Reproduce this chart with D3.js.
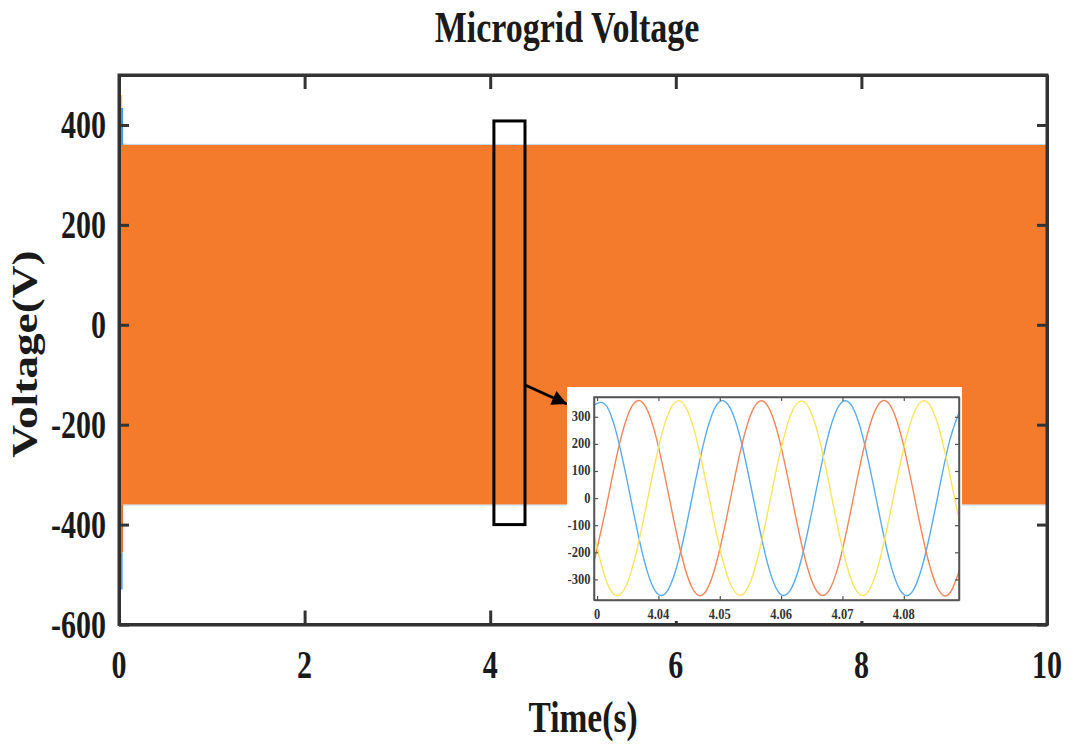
<!DOCTYPE html>
<html>
<head>
<meta charset="utf-8">
<script src="https://cdn.jsdelivr.net/npm/d3@7/dist/d3.min.js"></script>
<style>
  html, body { margin: 0; padding: 0; background: #fff; }
  svg { display: block; }
  text { font-family: "Liberation Serif", "Times New Roman", serif; font-weight: bold; fill: #1a1a1a; }
</style>
</head>
<body>
<script>
// ---------------- DATA ----------------
const titleText = "Microgrid Voltage";
const xLabelText = "Time(s)";
const yLabelText = "Voltage(V)";

const xTicks = [0, 2, 4, 6, 8, 10];
const yTicks = [-600, -400, -200, 0, 200, 400];

// envelope of the dense 3-phase waveform (main plot)
const envT     = [0, 0.02, 0.05, 0.1, 10];
const envUpper = [368, 366, 361, 360, 360];
const envLower = [-362, -361, -360, -360, -360];

// start-up transient spikes: [time, from, to]
const spikeYellow = [0.022, 360, 460];
const spikeBlue   = [0.03, 360, 434];
const spikeOrangeLow = [0.03, -360, -456];
const spikeBlueLow   = [0.025, -456, -530];

// zoom window marked on main plot
const zoomX = [4.04, 4.375];
const zoomY = [-400, 408];

// inset (zoomed waveform)
const insetT = [4.0295, 4.0315, 4.0335, 4.0355, 4.0375, 4.0395, 4.0415, 4.0435, 4.0455, 4.0475,
                4.0495, 4.0515, 4.0535, 4.0555, 4.0575, 4.0595, 4.0615, 4.0635, 4.0655, 4.0675,
                4.0695, 4.0715, 4.0735, 4.0755, 4.0775, 4.0795, 4.0815, 4.0835, 4.0855, 4.0875, 4.0895];
const phaseBlue   = [343, 341, 209, -3, -214, -343, -341, -209, 3, 214,
                     344, 340, 208, -4, -215, -344, -340, -208, 4, 215,
                     343, 341, 209, -3, -214, -343, -341, -209, 3, 214, 343];
const phaseOrange = [-236, -31, 185, 331, 351, 236, 31, -185, -331, -351,
                     -235, -30, 186, 331, 350, 235, 30, -186, -331, -350,
                     -236, -31, 185, 331, 351, 236, 31, -185, -331, -351, -236];
const phaseYellow = [-135, -305, -359, -276, -87, 135, 305, 359, 276, 87,
                     -134, -304, -358, -277, -88, 134, 304, 358, 277, 88,
                     -135, -305, -359, -276, -87, 135, 305, 359, 276, 87, -135];
const insetXTicks = [4.03, 4.04, 4.05, 4.06, 4.07, 4.08];
const insetXTickLabels = ["0", "4.04", "4.05", "4.06", "4.07", "4.08"];
const insetYTicks = [-300, -200, -100, 0, 100, 200, 300];

// ---------------- STYLE ----------------
const C_BAND = "#f47a2c";
const C_EDGE = "#aac4dc";
const C_BLUE = "#5aaced";
const C_ORANGE = "#f0875a";
const C_YELLOW = "#fde35e";
const C_AXIS = "#333333";

const W = 1073, H = 747;
const svg = d3.select("body").append("svg").attr("width", W).attr("height", H);
svg.append("rect").attr("width", W).attr("height", H).attr("fill", "#fff");

const SY = 1.35; // vertical stretch of text as in the reference

function sText(g, x, y, str, size, anchor, sy) {
  return g.append("text")
    .attr("transform", `translate(${x},${y}) scale(1,${sy})`)
    .attr("text-anchor", anchor)
    .style("font-size", size + "px")
    .text(str);
}

// ---------------- MAIN PLOT ----------------
const x = d3.scaleLinear().domain([0, 10]).range([119, 1047]);
const y = d3.scaleLinear().domain([-600, 500]).range([624.5, 75]);

const main = svg.append("g");
main.append("clipPath").attr("id", "clipMain")
  .append("rect").attr("x", x(0)).attr("y", y(500)).attr("width", x(10) - x(0)).attr("height", y(-600) - y(500));

const plotG = main.append("g").attr("clip-path", "url(#clipMain)");
const env = envT.map((t, i) => ({ t, hi: envUpper[i], lo: envLower[i] }));

plotG.append("path").datum(env)
  .attr("fill", C_BAND)
  .attr("d", d3.area().x(d => x(d.t)).y0(d => y(d.lo)).y1(d => y(d.hi)));
plotG.append("path").datum(env).attr("fill", "none").attr("stroke", C_EDGE).attr("stroke-width", 1)
  .attr("stroke-opacity", 0.7)
  .attr("d", d3.line().x(d => x(d.t)).y(d => y(d.hi) - 0.5));
plotG.append("path").datum(env).attr("fill", "none").attr("stroke", C_EDGE).attr("stroke-width", 1)
  .attr("stroke-opacity", 0.7)
  .attr("d", d3.line().x(d => x(d.t)).y(d => y(d.lo) + 0.5));

function spike(s, color) {
  plotG.append("line")
    .attr("x1", x(s[0])).attr("x2", x(s[0]))
    .attr("y1", y(s[1])).attr("y2", y(s[2]))
    .attr("stroke", color).attr("stroke-width", 2.5);
}
spike(spikeYellow, "#f5d742");
spike(spikeBlue, "#3d9be0");
spike(spikeOrangeLow, "#e8742c");
spike(spikeBlueLow, "#3d9be0");

// axes box with inward ticks on all sides
const axG = main.append("g").attr("class", "axes");
function styleAxis(g) {
  g.selectAll("path").attr("stroke", C_AXIS).attr("stroke-width", 3);
  g.selectAll("line").attr("stroke", C_AXIS).attr("stroke-width", 3);
  g.selectAll("text").remove();
}
axG.append("g").attr("transform", `translate(${x(0)},0)`)
  .call(d3.axisLeft(y).tickValues(yTicks).tickSize(-10).tickSizeOuter(0)).call(styleAxis);
axG.append("g").attr("transform", `translate(${x(10)},0)`)
  .call(d3.axisRight(y).tickValues(yTicks).tickSize(-10).tickSizeOuter(0)).call(styleAxis);
axG.append("g").attr("transform", `translate(0,${y(-600)})`)
  .call(d3.axisBottom(x).tickValues(xTicks).tickSize(-14).tickSizeOuter(0)).call(styleAxis);
axG.append("g").attr("transform", `translate(0,${y(500)})`)
  .call(d3.axisTop(x).tickValues(xTicks).tickSize(-14).tickSizeOuter(0)).call(styleAxis);
axG.append("rect")
  .attr("x", x(0)).attr("y", y(500)).attr("width", x(10) - x(0)).attr("height", y(-600) - y(500))
  .attr("fill", "none").attr("stroke", C_AXIS).attr("stroke-width", 3);

// tick labels
yTicks.forEach(v => sText(main, 106, y(v) + 13.5, String(v), 30, "end", SY));
xTicks.forEach(v => sText(main, x(v), 678, String(v), 30, "middle", SY));

// titles
sText(svg, 567, 42, titleText, 34, "middle", 1.32);
sText(svg, 583, 732, xLabelText, 33.5, "middle", 1.32);
svg.append("text")
  .attr("transform", `translate(37,354) rotate(-90) scale(1.26,1)`)
  .attr("text-anchor", "middle")
  .style("font-size", "36px")
  .text(yLabelText);

// zoom rectangle
main.append("rect")
  .attr("x", x(zoomX[0])).attr("y", y(zoomY[1]))
  .attr("width", x(zoomX[1]) - x(zoomX[0])).attr("height", y(zoomY[0]) - y(zoomY[1]))
  .attr("fill", "none").attr("stroke", "#000").attr("stroke-width", 3);

// ---------------- INSET ----------------
const inBg = { x0: 567, y0: 387, x1: 962, y1: 621 };
const ix = d3.scaleLinear().domain([4.0295, 4.089]).range([594, 959]);
const iy = d3.scaleLinear().domain([-376, 373]).range([600, 397]);

// arrow from zoom box to inset
const defs = svg.append("defs");
defs.append("marker").attr("id", "arrowHead")
  .attr("viewBox", "0 0 10 10").attr("refX", 10).attr("refY", 5)
  .attr("markerWidth", 6.5).attr("markerHeight", 5).attr("markerUnits", "strokeWidth")
  .attr("orient", "auto")
  .append("path").attr("d", "M0,0 L10,5 L0,10 Z").attr("fill", "#000");
svg.append("line")
  .attr("x1", x(zoomX[1])).attr("y1", 385)
  .attr("x2", inBg.x0).attr("y2", 404)
  .attr("stroke", "#000").attr("stroke-width", 3)
  .attr("marker-end", "url(#arrowHead)");

const inset = svg.append("g");
inset.append("rect").attr("x", inBg.x0).attr("y", inBg.y0)
  .attr("width", inBg.x1 - inBg.x0).attr("height", inBg.y1 - inBg.y0).attr("fill", "#fff");

inset.append("clipPath").attr("id", "clipInset")
  .append("rect").attr("x", 594).attr("y", 397).attr("width", 365).attr("height", 203);
const inPlot = inset.append("g").attr("clip-path", "url(#clipInset)");
const lineGen = d3.line().x(d => ix(d[0])).y(d => iy(d[1])).curve(d3.curveNatural);
[[phaseBlue, C_BLUE], [phaseOrange, C_ORANGE], [phaseYellow, C_YELLOW]].forEach(([vals, col]) => {
  inPlot.append("path")
    .datum(insetT.map((t, i) => [t, vals[i]]))
    .attr("fill", "none").attr("stroke", col).attr("stroke-width", 1.4)
    .attr("d", lineGen);
});

function styleInAxis(g) {
  g.selectAll("path").attr("stroke", "#555").attr("stroke-width", 1.5);
  g.selectAll("line").attr("stroke", "#555").attr("stroke-width", 1.2);
  g.selectAll("text").remove();
}
inset.append("g").attr("transform", "translate(594,0)")
  .call(d3.axisLeft(iy).tickValues(insetYTicks).tickSize(-4).tickSizeOuter(0)).call(styleInAxis);
inset.append("g").attr("transform", "translate(959,0)")
  .call(d3.axisRight(iy).tickValues(insetYTicks).tickSize(-4).tickSizeOuter(0)).call(styleInAxis);
inset.append("g").attr("transform", "translate(0,600)")
  .call(d3.axisBottom(ix).tickValues(insetXTicks).tickSize(-4).tickSizeOuter(0)).call(styleInAxis);
inset.append("g").attr("transform", "translate(0,397)")
  .call(d3.axisTop(ix).tickValues(insetXTicks).tickSize(-4).tickSizeOuter(0)).call(styleInAxis);
inset.append("rect").attr("x", 594).attr("y", 397).attr("width", 365).attr("height", 203)
  .attr("fill", "none").attr("stroke", "#555").attr("stroke-width", 1.5);

insetYTicks.forEach(v => sText(inset, 590.5, iy(v) + 4.5, String(v), 12.5, "end", 1.12)
  .style("fill", "#333"));
insetXTicks.forEach((v, i) => sText(inset, ix(v), 618.5, insetXTickLabels[i], 12.5, "middle", 1.12)
  .style("fill", "#333"));
</script>
</body>
</html>
